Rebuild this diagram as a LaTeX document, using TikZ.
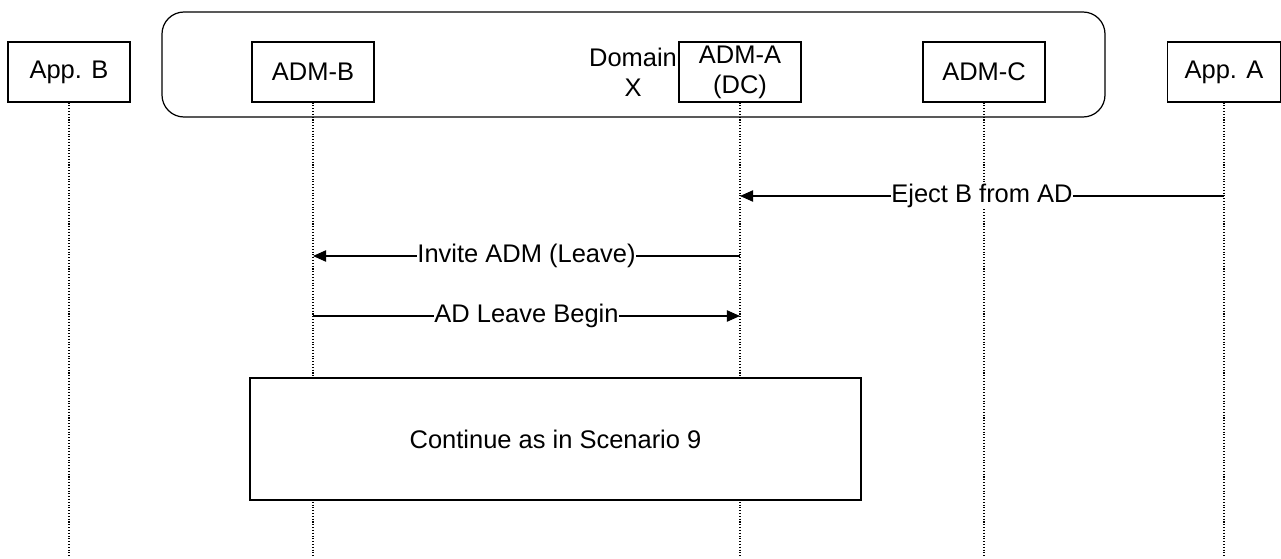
\documentclass[tikz,border=0pt]{standalone}
\usepackage{fontspec}
\setmainfont{Liberation Sans}
\usetikzlibrary{arrows.meta}

\begin{document}
\begin{tikzpicture}[%
      x=0.02cm, y=-0.02cm,
      font=\fontsize{14.5}{17}\selectfont,
      entity/.style={draw, line width=0.7pt, minimum width=2.44cm,
        minimum height=1.2cm, align=center, inner sep=0pt},
      lifeline/.style={line width=0.6pt, densely dotted},
      msg/.style={line width=0.7pt, -{Triangle[length=7.5pt,width=6.5pt]}},
      msglabel/.style={fill=white, inner sep=0.5pt},
      ]
      \useasboundingbox (0,0) rectangle (1281,558);

      % domain X
      \draw [line width=0.7pt, rounded corners=0.44cm] (162,12) rectangle (1105,117);
      \node [align=center, inner sep=0pt] (domX) at (633,72) {Domain\\X};

      % entities
      \node [entity] (appB) at (69,72) {App. B};
      \node [entity] (admB) at (313,72) {ADM-B};
      \node [entity] (admA) at (740,72) {ADM-A\\(DC)};
      \node [entity] (admC) at (984,72) {ADM-C};
      \node [entity, minimum width=2.26cm] (appA) at (1224,72) {App. A};

      % lifelines
      \foreach \e in {appB,admB,admA,admC,appA} {
        \coordinate (\e end) at (\e.south |- 0,558);
        \draw [lifeline] (\e.south) -- (\e end);
      }

      % messages
      \coordinate (ejectS) at (appA |- 0,196);
      \coordinate (ejectE) at (admA |- 0,196);
      \coordinate (inviteS) at (admA |- 0,256);
      \coordinate (inviteE) at (admB |- 0,256);
      \coordinate (leaveS) at (admB |- 0,316);
      \coordinate (leaveE) at (admA |- 0,316);
      \draw [msg] (ejectS) -- (ejectE) node [midway, msglabel] {Eject B from AD};
      \draw [msg] (inviteS) -- (inviteE) node [midway, msglabel] {Invite ADM (Leave)};
      \draw [msg] (leaveS) -- (leaveE) node [midway, msglabel] {AD Leave Begin};

      \node [draw, fill=white, line width=0.7pt, minimum width=12.22cm,
        minimum height=2.44cm] (cont) at (555.5,439) {Continue as in Scenario 9};
\end{tikzpicture}
\end{document}
